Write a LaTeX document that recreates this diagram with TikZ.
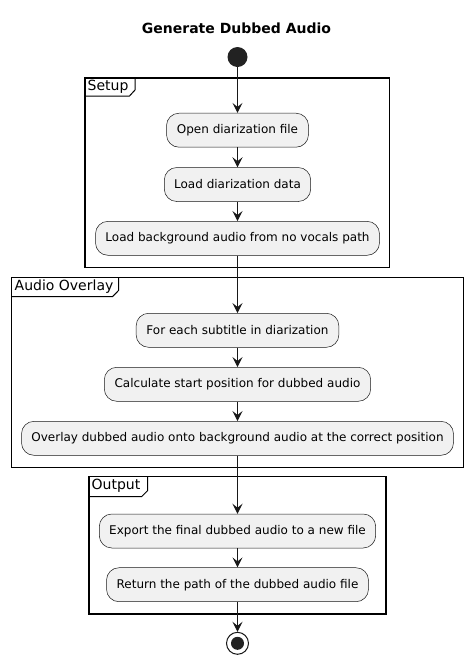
\documentclass[tikz,border=0pt]{standalone}
\usepackage{fontspec}
\setmainfont{DejaVu Sans}
\usetikzlibrary{arrows.meta}
\definecolor{boxfill}{HTML}{F1F1F1}
\definecolor{ink}{HTML}{181818}
\definecolor{dot}{HTML}{222222}
\tikzset{
  act/.style={draw=ink, line width=0.5pt, fill=boxfill, rounded corners=12.5pt,
    minimum height=34pt, inner sep=0pt, font=\fontsize{12}{14}\selectfont, anchor=center},
  flow/.style={draw=ink, line width=1pt, -{Stealth[length=10pt, width=10pt, inset=4pt]}},
  frame/.style={draw=black, line width=1.5pt},
  tab/.style={draw=black, line width=1pt},
  plabel/.style={anchor=west, inner sep=0pt, font=\fontsize{14}{16}\selectfont},
}
\begin{document}
\begin{tikzpicture}[x=1pt, y=-1pt]
\useasboundingbox (0,0) rectangle (473,665);

\node[font=\bfseries\fontsize{14}{16}\selectfont] (title) at (236.5,28) {Generate Dubbed Audio};

% frames
\draw[frame] (85,78) rectangle (389.5,267.7);
\draw[tab] (85,96) -- (129.5,96) -- (135,90) -- (135,78);
\node[plabel] (lsetup) at (87.5,87) {Setup};

\draw[frame] (11.7,277.3) rectangle (463.3,467.3);
\draw[tab] (11.7,296.7) -- (112.5,296.7) -- (118.5,290.5) -- (118.5,277.3);
\node[plabel] (laudio) at (14.5,286.5) {Audio Overlay};

\draw[frame] (89,476.7) rectangle (386,614);
\draw[tab] (89,496.7) -- (141.5,496.7) -- (147.7,490.5) -- (147.7,476.7);
\node[plabel] (loutput) at (91.5,486) {Output};

% start
\node[circle, fill=dot, minimum size=20pt, inner sep=0pt] (start) at (237.5,57) {};

% activities
\node[act, minimum width=142pt] (a1) at (237.5,130.2) {Open diarization file};
\node[act, minimum width=146.4pt] (a2) at (237.5,184.5) {Load diarization data};
\node[act, minimum width=284pt] (a3) at (237.5,238.3) {Load background audio from no vocals path};
\node[act, minimum width=202.7pt] (a4) at (237.5,330.3) {For each subtitle in diarization};
\node[act, minimum width=266.4pt] (a5) at (237.5,384.3) {Calculate start position for dubbed audio};
\node[act, minimum width=432pt] (a6) at (237.5,438.3) {Overlay dubbed audio onto background audio at the correct position};
\node[act, minimum width=276.4pt] (a7) at (237.5,531) {Export the final dubbed audio to a new file};
\node[act, minimum width=262pt] (a8) at (237.5,584.7) {Return the path of the dubbed audio file};

% end
\node[circle, draw=ink, line width=1pt, fill=white, minimum size=22pt, inner sep=0pt] (stop) at (237.5,643.3) {};
\node[circle, fill=dot, minimum size=13pt, inner sep=0pt] (stopdot) at (stop.center) {};

% connectors
\draw[flow] (start) -- (a1);
\draw[flow] (a1) -- (a2);
\draw[flow] (a2) -- (a3);
\draw[flow] (a3) -- (a4);
\draw[flow] (a4) -- (a5);
\draw[flow] (a5) -- (a6);
\draw[flow] (a6) -- (a7);
\draw[flow] (a7) -- (a8);
\draw[flow] (a8) -- (stop);
\end{tikzpicture}
\end{document}
